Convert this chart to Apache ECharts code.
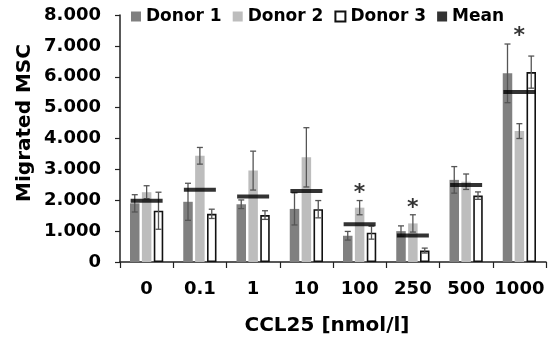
<!DOCTYPE html>
<html>
<head>
<meta charset="utf-8">
<script src="https://cdn.jsdelivr.net/npm/echarts@6/dist/echarts.min.js"></script>
<style>html,body{margin:0;padding:0;background:#fff}#c{width:550px;height:339px}</style>
</head>
<body>
<div id="c"></div>
<script>
var categories = ['0', '0.1', '1', '10', '100', '250', '500', '1000'];
var donor1 = [1.90, 1.95, 1.87, 1.72, 0.85, 1.00, 2.66, 6.11];
var donor1Err = [0.28, 0.60, 0.14, 0.52, 0.14, 0.17, 0.43, 0.95];
var donor2 = [2.26, 3.44, 2.96, 3.39, 1.76, 1.25, 2.60, 4.24];
var donor2Err = [0.21, 0.27, 0.63, 0.96, 0.23, 0.28, 0.25, 0.24];
var donor3 = [1.66, 1.56, 1.52, 1.71, 0.95, 0.37, 2.15, 6.15];
var donor3Err = [0.60, 0.15, 0.14, 0.28, 0.21, 0.08, 0.12, 0.52];
var meanVals = [1.98, 2.34, 2.12, 2.30, 1.22, 0.86, 2.49, 5.51];
var starVals = ['-', '-', '-', '-', 2.36, 1.86, '-', 7.45];
var yTickLabels = ['0', '1.000', '2.000', '3.000', '4.000', '5.000', '6.000', '7.000', '8.000'];
var seriesNames = ['Donor 1', 'Donor 2', 'Donor 3', 'Mean'];

var FONT = 'DejaVu Sans';
var BAR_W = 9.5;
var BAR_GAP = 0.25;
var OFFSETS = [-(BAR_W * (1 + BAR_GAP)), 0, BAR_W * (1 + BAR_GAP)];

var errData = [];
[[donor1, donor1Err], [donor2, donor2Err], [donor3, donor3Err]].forEach(function (pair, k) {
  pair[0].forEach(function (v, i) {
    errData.push([i, v - pair[1][i], v + pair[1][i], k]);
  });
});

var chart = echarts.init(document.getElementById('c'), null, {renderer: 'canvas'});
chart.setOption({
  animation: false,
  backgroundColor: '#fff',
  grid: {left: 120, right: 4, top: 15, bottom: 77, containLabel: false, outerBoundsMode: 'none'},
  legend: {
    left: 126, top: 3,
    itemWidth: 10, itemHeight: 10, itemGap: 11,
    icon: 'rect',
    textStyle: {fontFamily: FONT, fontWeight: 'bold', fontSize: 17, color: '#000'},
    data: seriesNames
  },
  graphic: [{
    type: 'text',
    x: 25, y: 123,
    rotation: Math.PI / 2,
    style: {
      text: 'Migrated MSC',
      font: 'bold 20px "DejaVu Sans"',
      fill: '#000',
      textAlign: 'center',
      textVerticalAlign: 'middle'
    }
  }],
  xAxis: {
    type: 'category',
    data: categories,
    name: 'CCL25 [nmol/l]',
    nameLocation: 'middle',
    nameGap: 54,
    nameTextStyle: {fontFamily: FONT, fontWeight: 'bold', fontSize: 20, color: '#000', padding: [0, 12, 0, 0]},
    axisLine: {lineStyle: {color: '#222', width: 1.5}},
    axisTick: {show: true, length: 6, interval: 0, lineStyle: {color: '#222', width: 1.2}},
    axisLabel: {margin: 18, interval: 0, fontFamily: FONT, fontWeight: 'bold', fontSize: 18, color: '#000'}
  },
  yAxis: {
    type: 'value',
    min: 0, max: 8, interval: 1,
    splitLine: {show: false},
    axisLine: {show: true, lineStyle: {color: '#222', width: 1.5}},
    axisTick: {show: true, length: 5, lineStyle: {color: '#222', width: 1.2}},
    axisLabel: {
      margin: 19, fontFamily: FONT, fontWeight: 'bold', fontSize: 18, color: '#000',
      formatter: function (v) { return yTickLabels[Math.round(v)]; }
    }
  },
  series: [
    {name: 'Donor 1', type: 'bar', data: donor1, barWidth: BAR_W, barGap: '25%',
      itemStyle: {color: '#808080'}},
    {name: 'Donor 2', type: 'bar', data: donor2, barWidth: BAR_W, barGap: '25%',
      itemStyle: {color: '#bdbdbd'}},
    {name: 'Donor 3', type: 'bar', data: donor3, barWidth: BAR_W, barGap: '25%',
      itemStyle: {color: '#ffffff', borderColor: '#111', borderWidth: 1.6}},
    {
      name: 'errors', type: 'custom', data: errData, z: 5,
      renderItem: function (params, api) {
        var ci = api.value(0), k = api.value(3);
        var pLo = api.coord([ci, api.value(1)]);
        var pHi = api.coord([ci, api.value(2)]);
        var x = pLo[0] + OFFSETS[k];
        var cap = 3;
        var st = {stroke: '#555', lineWidth: 1.3};
        return {type: 'group', children: [
          {type: 'line', shape: {x1: x, y1: pLo[1], x2: x, y2: pHi[1]}, style: st},
          {type: 'line', shape: {x1: x - cap, y1: pLo[1], x2: x + cap, y2: pLo[1]}, style: st},
          {type: 'line', shape: {x1: x - cap, y1: pHi[1], x2: x + cap, y2: pHi[1]}, style: st}
        ]};
      }
    },
    {name: 'Mean', type: 'scatter', data: meanVals, symbol: 'rect', symbolSize: [32, 4], z: 6,
      itemStyle: {color: '#000'}},
    {name: 'stars', type: 'scatter', data: starVals, symbolSize: 1, z: 7,
      itemStyle: {color: 'rgba(0,0,0,0)'},
      label: {show: true, position: 'inside', offset: [0, 4], formatter: '*', fontFamily: FONT, fontWeight: 'bold', fontSize: 22, color: '#000'}}
  ]
});
</script>
</body>
</html>
